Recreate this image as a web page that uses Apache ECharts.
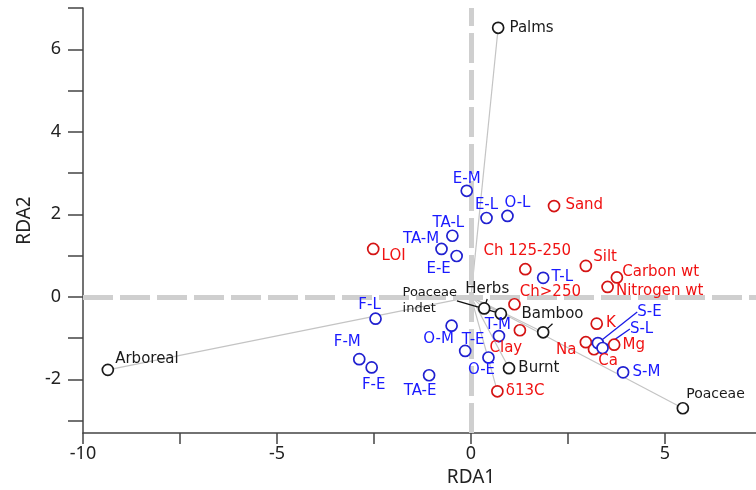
<!DOCTYPE html>
<html>
<head>
<meta charset="utf-8">
<script src="https://cdn.jsdelivr.net/npm/echarts@6/dist/echarts.min.js"></script>
<style>
  html, body { margin: 0; padding: 0; background: #fff; }
  #chart { width: 756px; height: 490px; }
</style>
</head>
<body>
<div id="chart"></div>
<script>
// Pollen taxa (species scores)
const taxaNames = ['Palms', 'Arboreal', 'Poaceae', 'Herbs', 'Poaceae\nindet', 'Bamboo', 'Burnt'];
const taxaRDA1 = [0.70, -9.36, 5.46, 0.34, 0.77, 1.86, 0.98];
const taxaRDA2 = [6.52, -1.77, -2.70, -0.28, -0.41, -0.86, -1.73];

// Environmental variables
const envNames = ['Sand', 'LOI', 'Ch 125-250', 'Silt', 'Carbon wt', 'Nitrogen wt', 'Ch>250',
                  'Clay', 'δ13C', 'K', 'Na', 'Mg', 'Ca'];
const envRDA1 = [2.14, -2.52, 1.40, 2.96, 3.76, 3.52, 1.12, 1.26, 0.68, 3.24, 2.96, 3.69, 3.17];
const envRDA2 = [2.20, 1.16, 0.67, 0.75, 0.47, 0.24, -0.18, -0.81, -2.29, -0.65, -1.10, -1.16, -1.27];

// Sampling sites
const siteNames = ['E-M', 'E-L', 'O-L', 'TA-L', 'TA-M', 'E-E', 'T-L', 'F-L', 'F-M', 'F-E',
                   'O-M', 'T-E', 'T-M', 'O-E', 'TA-E', 'S-E', 'S-L', 'S-M'];
const siteRDA1 = [-0.11, 0.40, 0.94, -0.48, -0.76, -0.37, 1.86, -2.46, -2.88, -2.56,
                  -0.50, -0.15, 0.72, 0.45, -1.08, 3.27, 3.39, 3.92];
const siteRDA2 = [2.57, 1.91, 1.96, 1.48, 1.16, 0.99, 0.46, -0.53, -1.51, -1.71,
                  -0.70, -1.31, -0.95, -1.47, -1.90, -1.12, -1.24, -1.83];

// Taxa drawn as vectors from the origin
const vectorTaxa = ['Palms', 'Arboreal', 'Poaceae', 'Herbs', 'Poaceae\nindet', 'Bamboo', 'Burnt'];
const vectorEnv = ['δ13C'];

// Axis ticks and labels
const xTickValues = [-10, -7.5, -5, -2.5, 0, 2.5, 5, 7.5, 10];
const xLabelValues = [-10, -5, 0, 5, 10];
const yTickValues = [-3, -2, -1, 0, 1, 2, 3, 4, 5, 6, 7];
const yLabelValues = [-2, 0, 2, 4, 6];

// Label placement: side of the marker plus a pixel shift; "line" adds a leader line
const labelStyle = {
  'Palms': { pos: 'right', d: [0, 0] },
  'Arboreal': { pos: 'right', d: [-4, -11] },
  'Poaceae': { pos: 'right', d: [-8, -14], size: 14 },
  'Herbs': { pos: 'top', d: [3, 2], line: true },
  'Poaceae\nindet': { pos: 'left', align: 'left', d: [-87, -13], size: 13, lh: 16, line: true },
  'Bamboo': { pos: 'right', d: [-33, -18], line: true },
  'Burnt': { pos: 'right', d: [-2, 0] },
  'Sand': { pos: 'right', d: [0, -1] },
  'LOI': { pos: 'right', d: [-3, 7] },
  'Ch 125-250': { pos: 'top', d: [2, 3] },
  'Silt': { pos: 'right', d: [-4, -9] },
  'Carbon wt': { pos: 'right', d: [-6, -5] },
  'Nitrogen wt': { pos: 'right', d: [-3, 4] },
  'Ch>250': { pos: 'right', d: [-6, -12] },
  'Clay': { pos: 'bottom', d: [-14, -3] },
  'δ13C': { pos: 'right', d: [-3, 0] },
  'K': { pos: 'right', d: [-2, -1] },
  'Na': { pos: 'left', d: [2, 8] },
  'Mg': { pos: 'right', d: [-3, 0] },
  'Ca': { pos: 'bottom', d: [14, -9] },
  'E-M': { pos: 'top', d: [0, 9] },
  'E-L': { pos: 'top', d: [0, 8] },
  'O-L': { pos: 'top', d: [10, 8] },
  'TA-L': { pos: 'top', d: [-4, 8] },
  'TA-M': { pos: 'left', d: [9, -10] },
  'E-E': { pos: 'bottom', d: [-18, -8] },
  'T-L': { pos: 'right', d: [-3, -1] },
  'F-L': { pos: 'top', d: [-6, 7] },
  'F-M': { pos: 'top', d: [-12, 4] },
  'F-E': { pos: 'bottom', d: [2, -3] },
  'O-M': { pos: 'bottom', d: [-13, -7] },
  'T-E': { pos: 'top', d: [8, 10] },
  'T-M': { pos: 'top', d: [-1, 10] },
  'O-E': { pos: 'bottom', d: [-7, -8] },
  'TA-E': { pos: 'bottom', d: [-9, -5] },
  'S-E': { pos: 'right', d: [28, -31], line: true },
  'S-L': { pos: 'right', d: [16, -19], line: true },
  'S-M': { pos: 'right', d: [-2, 0] }
};

const LABEL_FONT = 'DejaVu Sans';

function buildPoints(names, xs, ys, lineColor) {
  return names.map(function (n, i) {
    const st = labelStyle[n] || { pos: 'right', d: [0, 0] };
    const item = {
      name: n,
      value: [xs[i], ys[i]],
      label: { position: st.pos }
    };
    if (st.align) item.label.align = st.align;
    if (st.size) item.label.fontSize = st.size;
    if (st.lh) item.label.lineHeight = st.lh;
    if (st.line) {
      item.labelLine = { show: true, lineStyle: { color: lineColor, width: 1.3 } };
    }
    return item;
  });
}

function pointSeries(name, data, stroke, textColor) {
  return {
    name: name,
    type: 'scatter',
    z: 5,
    symbol: 'circle',
    symbolSize: 11,
    itemStyle: { color: '#fff', borderColor: stroke, borderWidth: 1.7, opacity: 1 },
    label: {
      show: true,
      formatter: '{b}',
      color: textColor,
      fontFamily: LABEL_FONT,
      fontSize: 15,
      distance: 5,
      lineHeight: 19
    },
    labelLayout: function (params) {
      const st = labelStyle[data[params.dataIndex].name];
      if (st && st.d) return { dx: st.d[0], dy: st.d[1] };
      return {};
    },
    emphasis: { disabled: true },
    data: data
  };
}

// Gray vectors from the origin
const vectorCoords = [];
vectorTaxa.forEach(function (n) {
  const i = taxaNames.indexOf(n);
  vectorCoords.push({ coords: [[0, 0], [taxaRDA1[i], taxaRDA2[i]]] });
});
vectorEnv.forEach(function (n) {
  const i = envNames.indexOf(n);
  vectorCoords.push({ coords: [[0, 0], [envRDA1[i], envRDA2[i]]] });
});

const chart = echarts.init(document.getElementById('chart'), null, { renderer: 'canvas' });

const axisTextStyle = { fontFamily: 'Noto Sans', fontSize: 18, color: '#222' };

chart.setOption({
  animation: false,
  backgroundColor: '#fff',
  grid: { left: 83, right: -103, top: 8, bottom: 57, containLabel: false, outerBoundsMode: 'none' },
  xAxis: {
    type: 'value',
    min: -10,
    max: 10,
    name: 'RDA1',
    nameLocation: 'middle',
    nameGap: 29,
    nameTextStyle: { fontFamily: 'Noto Sans', fontSize: 19, color: '#222' },
    axisLine: { show: true, onZero: false, lineStyle: { color: '#444', width: 1.5 } },
    axisTick: { show: true, customValues: xTickValues, length: 11, lineStyle: { color: '#444', width: 1.5 } },
    axisLabel: Object.assign({ customValues: xLabelValues, margin: 12 }, axisTextStyle),
    splitLine: { show: false }
  },
  yAxis: {
    type: 'value',
    min: -3.3,
    max: 7,
    name: 'RDA2',
    nameLocation: 'middle',
    nameGap: 44,
    nameTextStyle: { fontFamily: 'Noto Sans', fontSize: 19, color: '#222' },
    axisLine: { show: true, onZero: false, lineStyle: { color: '#444', width: 1.5 } },
    axisTick: { show: true, customValues: yTickValues, length: 15, lineStyle: { color: '#444', width: 1.5 } },
    axisLabel: Object.assign({ customValues: yLabelValues, margin: 22 }, axisTextStyle),
    splitLine: { show: false }
  },
  series: [
    {
      type: 'lines',
      coordinateSystem: 'cartesian2d',
      z: 2,
      silent: true,
      lineStyle: { color: '#c4c4c4', width: 1.2, opacity: 1 },
      data: vectorCoords,
      markLine: {
        silent: true,
        symbol: ['none', 'none'],
        label: { show: false },
        lineStyle: { color: '#cfcfcf', width: 5, type: [30, 7] },
        data: [{ xAxis: 0 }, { yAxis: 0 }]
      }
    },
    pointSeries('Taxa', buildPoints(taxaNames, taxaRDA1, taxaRDA2, '#111'), '#1a1a1a', '#1a1a1a'),
    pointSeries('Environment', buildPoints(envNames, envRDA1, envRDA2, '#e01010'), '#d41414', '#f01212'),
    pointSeries('Sites', buildPoints(siteNames, siteRDA1, siteRDA2, '#1a1ae6'), '#2020d0', '#1a1aff')
  ]
});
</script>
</body>
</html>
